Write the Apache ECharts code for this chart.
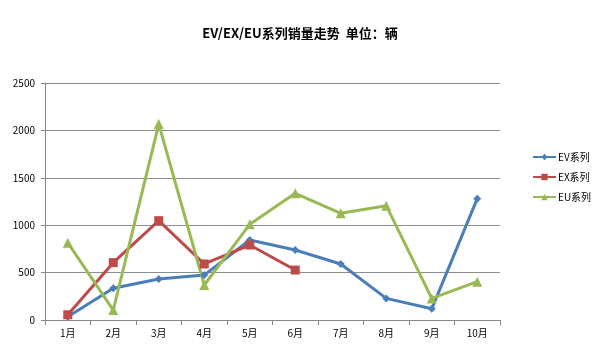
<!DOCTYPE html>
<html>
<head>
<meta charset="utf-8">
<script src="https://cdn.jsdelivr.net/npm/echarts@6/dist/echarts.min.js"></script>
<style>
html, body { margin: 0; padding: 0; background: #fff; }
#chart { width: 600px; height: 354px; }
</style>
</head>
<body>
<div id="chart"></div>
<script>
// 数据
const months = ['1月', '2月', '3月', '4月', '5月', '6月', '7月', '8月', '9月', '10月']
const evSales = [35, 334, 432, 474, 844, 738, 591, 228, 118, 1280]
const exSales = [55, 605, 1048, 591, 791, 527]
const euSales = [816, 105, 2067, 369, 1009, 1336, 1125, 1206, 228, 404]

const font = '"Microsoft YaHei", "Noto Sans CJK SC", sans-serif'

function lineSeries(name, data, color, symbol, size) {
    return {
        name: name,
        type: 'line',
        data: data,
        symbol: symbol,
        symbolSize: size,
        lineStyle: {color: color, width: 3},
        itemStyle: {color: color},
        emphasis: {disabled: true}
    }
}

let myChart = echarts.init(document.getElementById('chart'))
myChart.setOption({
    animation: false,
    backgroundColor: '#fff',
    title: {
        text: 'EV/EX/EU系列销量走势  单位：辆',
        left: 'center',
        top: 22,
        textStyle: {fontFamily: font, fontSize: 13, fontWeight: 'bold', color: '#000'}
    },
    legend: {
        orient: 'vertical',
        left: 527,
        top: 147,
        itemWidth: 23,
        itemHeight: 8,
        itemGap: 10,
        textStyle: {fontFamily: font, fontSize: 10, color: '#000', padding: [0, 0, 0, -3]},
        data: ['EV系列', 'EX系列', 'EU系列']
    },
    grid: {left: 45, right: 100, top: 83, bottom: 34},
    xAxis: {
        type: 'category',
        data: months,
        boundaryGap: true,
        axisLine: {lineStyle: {color: '#868686'}},
        axisTick: {show: true, length: 5, lineStyle: {color: '#868686'}},
        axisLabel: {fontFamily: font, fontSize: 10, color: '#000', margin: 8}
    },
    yAxis: {
        type: 'value',
        min: 0,
        max: 2500,
        interval: 500,
        axisLine: {show: true, lineStyle: {color: '#868686'}},
        axisTick: {show: true, length: 4, lineStyle: {color: '#868686'}},
        axisLabel: {fontFamily: font, fontSize: 10, color: '#000', margin: 10, formatter: v => String(v)},
        splitLine: {lineStyle: {color: '#8c8c8c', width: 1}}
    },
    series: [
        lineSeries('EV系列', evSales, '#4a7ebb', 'diamond', 8),
        lineSeries('EX系列', exSales, '#be4b48', 'rect', 9),
        lineSeries('EU系列', euSales, '#98b954', 'triangle', 10)
    ]
})
</script>
</body>
</html>
